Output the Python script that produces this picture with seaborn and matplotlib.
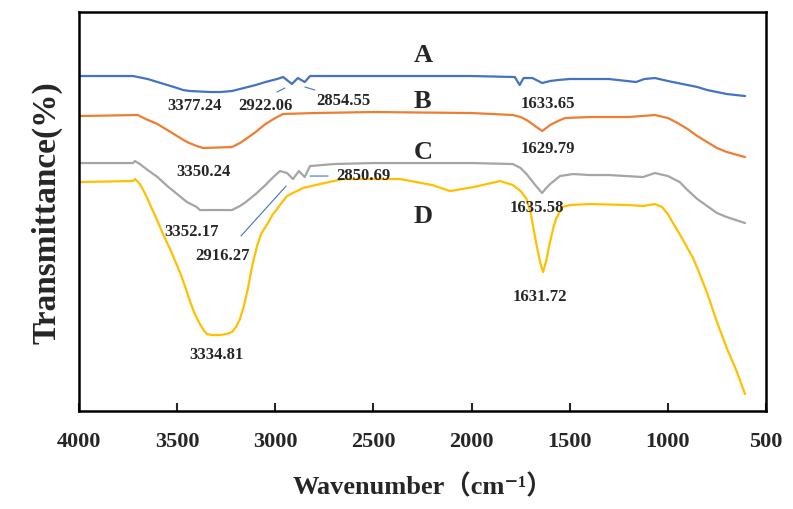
import pandas as pd
import matplotlib
matplotlib.use('Agg')
import matplotlib.pyplot as plt
import seaborn as sns

# FTIR spectra (arbitrary transmittance units, curves offset)
A_WN = [4000, 3725, 3700, 3650, 3600, 3550, 3500, 3470, 3435, 3333, 3280, 3221, 3160, 3100,
        3050, 2991, 2960, 2915, 2885, 2850, 2823, 2500, 2000, 1780, 1755, 1735, 1690, 1640,
        1600, 1560, 1500, 1300, 1162, 1120, 1066, 1000, 950, 900, 850, 800, 750, 700, 607]
A_T = [335, 335, 334, 332, 329, 326, 323, 321, 320, 319, 319, 320, 323, 326,
       329, 332, 334, 327, 333, 329, 335, 335, 335, 334, 326, 333, 333, 328,
       330, 331, 332, 332, 329, 332, 333, 330, 328, 326, 324, 321, 319, 317, 315]

B_WN = [4000, 3700, 3660, 3600, 3550, 3500, 3450, 3400, 3368, 3221, 3180, 3150, 3100, 3050,
        3000, 2961, 2800, 2500, 2000, 1790, 1750, 1720, 1690, 1670, 1640, 1620, 1600, 1560,
        1524, 1400, 1200, 1066, 1000, 950, 900, 850, 800, 750, 700, 607]
B_T = [295, 296, 292, 287, 281, 275, 269, 265, 263, 264, 268, 272, 279, 287,
       293, 297, 298, 299, 298, 296, 294, 291, 287, 284, 280, 283, 286, 290,
       293, 294, 294, 296, 293, 288, 282, 275, 269, 263, 259, 254]

C_WN = [4000, 3725, 3715, 3690, 3650, 3600, 3550, 3500, 3450, 3400, 3384, 3221, 3180, 3150,
        3100, 3050, 3010, 2976, 2940, 2910, 2880, 2850, 2823, 2700, 2500, 2000, 1790, 1750,
        1720, 1680, 1641, 1620, 1600, 1550, 1483, 1400, 1300, 1127, 1066, 1000, 940, 900,
        850, 800, 750, 700, 607]
C_T = [248, 248, 250, 247, 241, 234, 225, 217, 209, 204, 201, 201, 205, 209,
       217, 226, 234, 240, 238, 232, 240, 234, 245, 247, 248, 248, 247, 243,
       237, 227, 218, 223, 227, 235, 237, 236, 236, 234, 238, 235, 229, 221,
       212, 205, 198, 194, 188]

D_WN = [4000, 3725, 3715, 3690, 3670, 3650, 3630, 3600, 3570, 3536, 3510, 3480, 3455, 3435,
        3410, 3384, 3365, 3348, 3320, 3282, 3250, 3221, 3200, 3180, 3160, 3140, 3120, 3093,
        3070, 3040, 3015, 2991, 2965, 2940, 2900, 2859, 2772, 2655, 2365, 2200, 2110, 1990,
        1855, 1790, 1750, 1720, 1700, 1685, 1670, 1650, 1636, 1620, 1605, 1585, 1570, 1540,
        1499, 1400, 1200, 1127, 1066, 1030, 1000, 974, 940, 900, 872, 840, 800, 750, 700,
        650, 607]
D_T = [229, 230, 232, 227, 220, 212, 203, 190, 176, 162, 150, 136, 122, 110,
       97, 87, 81, 77, 76, 76, 77, 79, 84, 92, 105, 122, 143, 165,
       178, 187, 196, 202, 209, 215, 219, 223, 227, 232, 232, 226, 220, 224,
       230, 226, 220, 212, 199, 183, 167, 148, 139, 150, 165, 182, 192, 204,
       206, 207, 206, 205, 207, 204, 197, 188, 177, 163, 153, 138, 118, 89, 63,
       40, 17]

SAMPLES = ['A', 'B', 'C', 'D']
COLORS = ['#4472C4', '#ED7D31', '#A5A5A5', '#FFC000']

# curve letters and peak labels: (text, wavenumber, T)
CURVE_LABELS = [('A', 2248, 357), ('B', 2248, 311), ('C', 2248, 260), ('D', 2248, 196)]
PEAK_LABELS = [('3377.24', 3409, 306), ('2922.06', 3052, 306), ('2854.55', 2655, 311),
               ('3350.24', 3368, 240), ('2850.69', 2553, 236), ('3352.17', 3424, 180),
               ('2916.27', 3271, 156), ('3334.81', 3302, 57), ('1633.65', 1611, 308),
               ('1629.79', 1611, 263), ('1635.58', 1667, 204), ('1631.72', 1650, 115)]
# leader lines (start wn, start T, end wn, end T)
LEADERS = [(2991, 319, 2951, 323), (2849, 324, 2798, 321),
           (2823, 235, 2731, 235), (3175, 175, 2945, 225)]

frames = []
for name, wn, t in zip(SAMPLES, [A_WN, B_WN, C_WN, D_WN], [A_T, B_T, C_T, D_T]):
    frames.append(pd.DataFrame({'wavenumber': wn, 'T': t, 'sample': name}))
df = pd.concat(frames, ignore_index=True)

sns.set_style('ticks')
plt.rcParams['font.family'] = ['Liberation Serif', 'Noto Sans CJK SC', 'DejaVu Sans']

fig = plt.figure(figsize=(7.93, 5.10), dpi=100)
ax = fig.add_axes([0.0996, 0.192, 0.8664, 0.7825])

sns.lineplot(data=df, x='wavenumber', y='T', hue='sample', palette=COLORS,
             estimator=None, sort=False, linewidth=1.6, legend=False, ax=ax)

ax.set_xlim(4000, 500)
ax.set_ylim(0, 399)
ax.set_xticks(range(4000, 499, -500))
ax.set_yticks([])
ax.tick_params(axis='x', direction='in', length=6, width=1.5, pad=14,
               labelsize=16)
for lab in ax.get_xticklabels():
    lab.set_fontweight('bold')
for sp in ax.spines.values():
    sp.set_linewidth(1.8)
    sp.set_color('black')

ax.set_xlabel('Wavenumber（cm⁻¹）', fontsize=19, fontweight='bold', labelpad=16)
ax.set_ylabel('Transmittance(%)', fontsize=24, fontweight='bold', labelpad=12)

for txt, x, y in CURVE_LABELS:
    ax.text(x, y, txt, fontsize=19, fontweight='bold', ha='center', va='center')
for txt, x, y in PEAK_LABELS:
    ax.text(x, y, txt, fontsize=12, fontweight='bold', ha='center', va='center')
for x0, y0, x1, y1 in LEADERS:
    ax.annotate('', xy=(x1, y1), xytext=(x0, y0),
                arrowprops=dict(arrowstyle='-', color='#4472C4', lw=0.8,
                                shrinkA=0, shrinkB=0))

fig.savefig('out.png', dpi=100)
